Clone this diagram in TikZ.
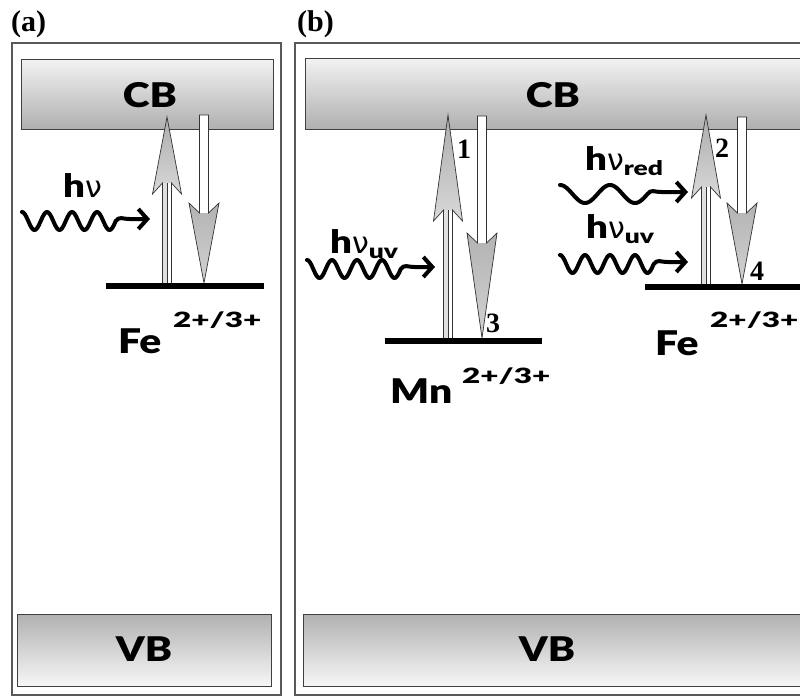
\documentclass[tikz,border=0pt]{standalone}
\usepackage{fontspec}
\setmainfont{Liberation Serif}
\def\heavyname{Liberation Sans Bold}\def\heavystretch{1.15}
\IfFontExistsTF{Poppins Black}{\def\heavyname{Poppins Black}\def\heavystretch{1.05}}{}
\IfFontExistsTF{Lato Black}{\def\heavyname{Lato Black}\def\heavystretch{1.2}}{}
\newfontfamily\heavyfont[FakeStretch=\heavystretch]{\heavyname}
\newfontfamily\widefont[FakeStretch=\fpeval{\heavystretch*1.25}]{\heavyname}
\newfontfamily\subfont[FakeStretch=\fpeval{\heavystretch*1.1}]{\heavyname}
\newfontfamily\nufont{DejaVu Sans}
\usetikzlibrary{arrows.meta}

\newcommand{\bandtext}{\heavyfont\fontsize{34}{40}\selectfont}
\newcommand{\chargetext}{\widefont\fontsize{21}{24}\selectfont}
\newcommand{\hnu}[1]{{\heavyfont\fontsize{32}{36}\selectfont h}{\nufont\fontsize{30}{34}\selectfont ν}\raisebox{-5pt}{\subfont\fontsize{20}{24}\selectfont #1}}

% excitation arrow: x, tail y (level), tip y, join y
\newcommand{\exciteup}[4]{%
  \pgfmathsetmacro{\barby}{#4+11}
  \fill[white] (#1-4.5,#2) rectangle (#1+4.5,#4);
  \fill[gray!25] (#1-4.5,#2) rectangle (#1+0.5,#4);
  \shade[top color=gray!65, bottom color=gray!30] (#1-4.5,#4) -- (#1-14.5,\barby) -- (#1,#3) -- (#1+14.5,\barby) -- (#1+4.5,#4) -- cycle;
  \draw[arrline] (#1-4.5,#2) -- (#1-4.5,#4) -- (#1-14.5,\barby) -- (#1,#3) -- (#1+14.5,\barby) -- (#1+4.5,#4) -- (#1+4.5,#2) -- cycle;
  \draw[arrline] (#1+0.5,#2) -- (#1+0.5,#4);
}
% recombination arrow: x, tail y (top), tip y (level), join y
\newcommand{\decaydown}[4]{%
  \pgfmathsetmacro{\barby}{#4-10}
  \fill[white] (#1-4.5,#2) rectangle (#1+4.5,#4);
  \shade[top color=gray!60, bottom color=gray!35] (#1-4.5,#4) -- (#1-15,\barby) -- (#1,#3) -- (#1+15,\barby) -- (#1+4.5,#4) -- cycle;
  \draw[arrline] (#1-4.5,#2) -- (#1-4.5,#4) -- (#1-15,\barby) -- (#1,#3) -- (#1+15,\barby) -- (#1+4.5,#4) -- (#1+4.5,#2) -- cycle;
}
% wavy photon: start x, centre y, period, periods, tip x
\newcommand{\photon}[5]{%
  \draw[photonline] plot[domain=0:#4*#3, samples=90, smooth] ({#1+\x},{#2-9*cos(\x/#3*360)})
    .. controls +(4,-5) and +(-8,0) .. (#1+#4*#3+14,#2-2) -- (#5,#2-2);
}

\begin{document}
\begin{tikzpicture}[x=1pt, y=-1pt,
  frame/.style={draw=black!65, line width=1.1pt},
  cbband/.style={draw=black!75, line width=0.9pt, top color=gray!10, bottom color=gray!62},
  vbband/.style={draw=black!75, line width=0.9pt, top color=gray!62, bottom color=gray!6},
  level/.style={line width=6pt},
  arrline/.style={draw=black!80, line width=0.7pt},
  photonline/.style={line width=4pt, line cap=round, line join=round, -{Straight Barb[length=9pt,width=20pt]}},
  num/.style={font=\bfseries\fontsize{28}{32}\selectfont, inner sep=0pt, anchor=base west},
  txt/.style={inner sep=0pt, anchor=base west}]

  \clip (0,0) rectangle (800,696);
  \fill[white] (0,0) rectangle (800,696);

  % panel labels
  \node[txt, font=\bfseries\fontsize{30}{34}\selectfont] (labA) at (11,31) {(a)};
  \node[txt, font=\bfseries\fontsize{30}{34}\selectfont] (labB) at (297,31) {(b)};

  % frames and bands
  \draw[frame] (12,43) rectangle (281,695);
  \draw[frame] (295,43) rectangle (812,695);
  \path[cbband] (21,59) rectangle (273,129);
  \path[cbband] (305,58) rectangle (812,129);
  \path[vbband] (17,614) rectangle (271,686);
  \path[vbband] (303,614) rectangle (812,686);
  \node[font=\bandtext] (cbA) at (150,95) {CB};
  \node[font=\bandtext] (cbB) at (553,95) {CB};
  \node[font=\bandtext] (vbA) at (144,649) {VB};
  \node[font=\bandtext] (vbB) at (547,649) {VB};

  % transitions
  \exciteup{167}{286}{117}{183}
  \decaydown{204}{115}{283}{213}
  \exciteup{448}{341}{115}{210}
  \decaydown{482}{116}{338}{243}
  \exciteup{706}{287}{115}{187}
  \decaydown{742}{117}{284}{213}

  % impurity levels
  \draw[level] (106,286) -- (264,286);
  \draw[level] (385,341) -- (542,341);
  \draw[level] (645,287) -- (812,287);

  \node[txt, font=\bandtext] (feA) at (118,353) {Fe};
  \node[txt, font=\chargetext] (feAq) at (173,327) {2+/3+};
  \node[txt, font=\bandtext] (mn) at (390,403) {Mn};
  \node[txt, font=\chargetext] (mnq) at (462,383) {2+/3+};
  \node[txt, font=\bandtext] (feB) at (655,355) {Fe};
  \node[txt, font=\chargetext] (feBq) at (710,327) {2+/3+};

  \node[num] (n1) at (457,158) {1};
  \node[num] (n2) at (715,157) {2};
  \node[num] (n3) at (486,332) {3};
  \node[num] (n4) at (750,280) {4};

  % light
  \node[txt] (hvA) at (63,197) {\hnu{}};
  \node[txt] (hvMn) at (330,253) {\hnu{uv}};
  \node[txt] (hvRed) at (585,170) {\hnu{red}};
  \node[txt] (hvUv) at (586,238) {\hnu{uv}};
  \photon{22}{221}{25}{3.75}{150}
  \photon{307}{269}{25}{3.75}{435}
  \photon{560}{264}{25}{3.75}{688}
  \photon{560}{194}{50}{1.75}{688}
\end{tikzpicture}
\end{document}
